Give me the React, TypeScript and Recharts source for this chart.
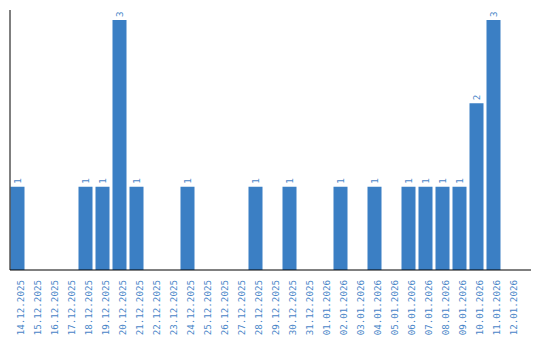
import React from "react";
import { BarChart, Bar, XAxis, YAxis, LabelList, Text } from "recharts";

const dates = [
  "14.12.2025", "15.12.2025", "16.12.2025", "17.12.2025", "18.12.2025",
  "19.12.2025", "20.12.2025", "21.12.2025", "22.12.2025", "23.12.2025",
  "24.12.2025", "25.12.2025", "26.12.2025", "27.12.2025", "28.12.2025",
  "29.12.2025", "30.12.2025", "31.12.2025", "01.01.2026", "02.01.2026",
  "03.01.2026", "04.01.2026", "05.01.2026", "06.01.2026", "07.01.2026",
  "08.01.2026", "09.01.2026", "10.01.2026", "11.01.2026", "12.01.2026",
];
const counts = [
  1, 0, 0, 0, 1,
  1, 3, 1, 0, 0,
  1, 0, 0, 0, 1,
  0, 1, 0, 0, 1,
  0, 1, 0, 1, 1,
  1, 1, 2, 3, 0,
];

const data = dates.map((d, i) => ({ date: d, count: counts[i] }));

const BAR = "#3b7fc4";
const TEXT = "#4a86c8";
const FONT = "'DejaVu Sans Mono', monospace";

const ValueLabel = (props: any) => {
  const { value } = props;
  if (!value) return null;
  const cx = Number(props.x) + Number(props.width) / 2;
  const ty = Number(props.y) - 3;
  return (
    <Text
      x={cx}
      y={ty}
      angle={-90}
      textAnchor="start"
      verticalAnchor="middle"
      fill={TEXT}
      fontSize={9.2}
      fontFamily={FONT}
    >
      {String(value)}
    </Text>
  );
};

export default function App() {
  return (
    <div style={{ position: "absolute", left: 0, top: 0, background: "#fff" }}>
      <BarChart
        width={540}
        height={340}
        data={data}
        margin={{ top: 10, right: 9, bottom: 0, left: 9 }}
        barCategoryGap={1.5}
      >
        <XAxis
          dataKey="date"
          interval={0}
          height={70}
          tickLine={false}
          tickSize={0}
          tickMargin={10}
          axisLine={{ stroke: "#000", strokeWidth: 1 }}
          tick={{ angle: -90, textAnchor: "end", verticalAnchor: "middle", fill: TEXT, fontSize: 9.2, fontFamily: FONT } as any}
          padding={{ left: -1.5, right: 12.5 }}
        />
        <YAxis
          width={1}
          domain={[0, 3]}
          tick={false}
          tickLine={false}
          axisLine={{ stroke: "#000", strokeWidth: 1 }}
          padding={{ top: 10, bottom: 0 }}
        />
        <Bar dataKey="count" fill={BAR} isAnimationActive={false} barSize={14}>
          <LabelList dataKey="count" content={ValueLabel} />
        </Bar>
      </BarChart>
    </div>
  );
}
